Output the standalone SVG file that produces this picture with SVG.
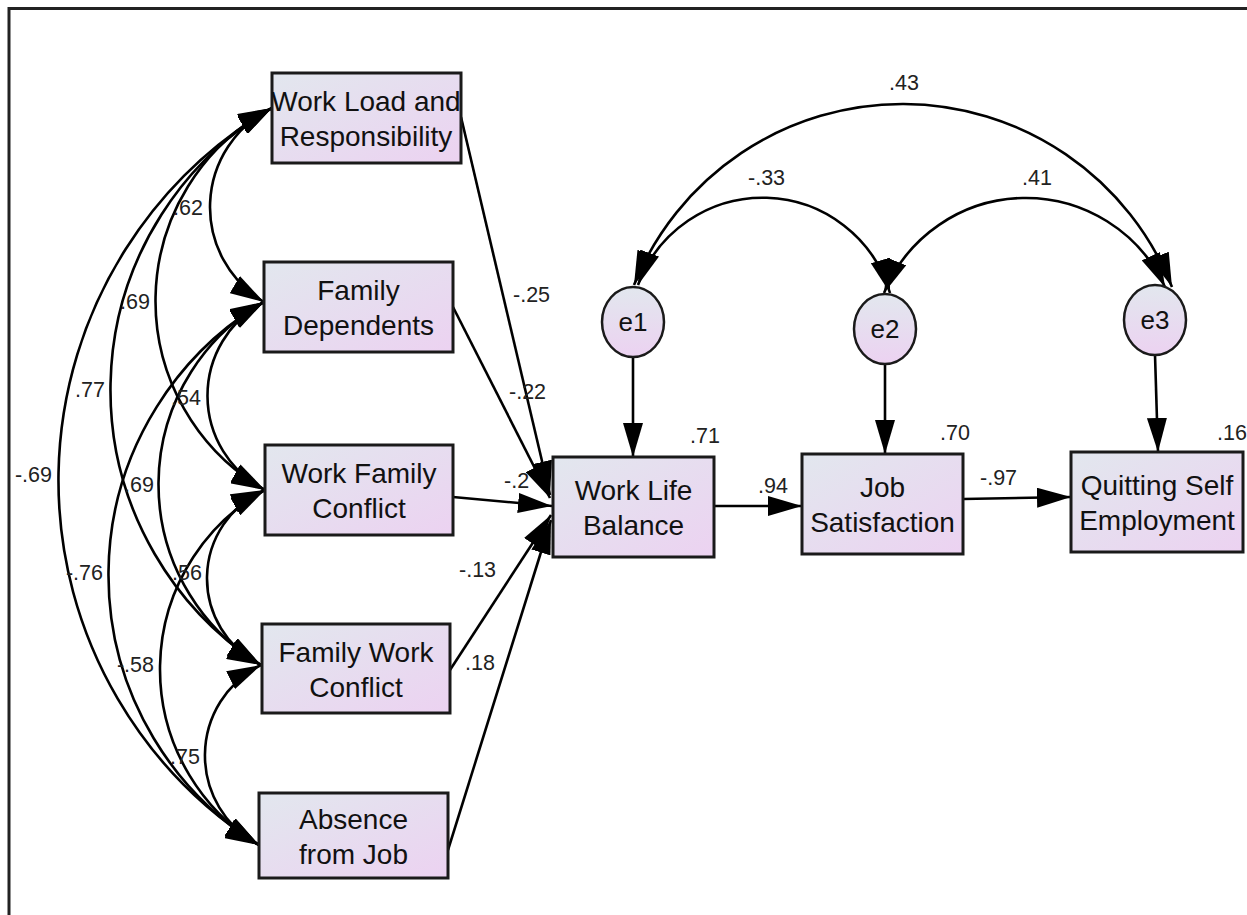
<svg xmlns="http://www.w3.org/2000/svg" width="1247" height="915" viewBox="0 0 1247 915">
<style>
.box{fill:url(#gb);stroke:#1a1a1a;stroke-width:3}
.ell{fill:url(#ge);stroke:#1a1a1a;stroke-width:2.5}
.t{font-family:"Liberation Sans",Arial,sans-serif;font-size:28px;fill:#111;text-anchor:middle}
.et{font-family:"Liberation Sans",Arial,sans-serif;font-size:26px;fill:#111;text-anchor:middle}
.n{font-family:"Liberation Sans",Arial,sans-serif;font-size:21.5px;fill:#222}
.ne{font-family:"Liberation Sans",Arial,sans-serif;font-size:21.5px;fill:#222;text-anchor:end}
.c{fill:none;stroke:#000;stroke-width:2.6;marker-end:url(#ah)}
.cv{fill:none;stroke:#000;stroke-width:2.6;marker-start:url(#ah);marker-end:url(#ah)}
</style>
<defs>
<linearGradient id="gb" x1="0" y1="0" x2="1" y2="1"><stop offset="0" stop-color="#e2e7ee"/><stop offset="1" stop-color="#ecd2f1"/></linearGradient>
<linearGradient id="ge" x1="0" y1="0" x2="0" y2="1"><stop offset="0" stop-color="#e2e7ee"/><stop offset="1" stop-color="#ecd2f1"/></linearGradient>
<marker id="ah" viewBox="0 0 34 20" refX="34" refY="10" markerWidth="34" markerHeight="20" markerUnits="userSpaceOnUse" orient="auto-start-reverse"><path d="M0,0 L34,10 L0,20 z" fill="#000"/></marker>
</defs>
<rect width="1247" height="915" fill="#fff"/>
<path d="M9,915 V8.5 H1247" fill="none" stroke="#222" stroke-width="3"/>

<g id="connectors">
<path class="cv" d="M272,108 A431.6,431.6 0 0 0 259,845"/>
<path class="cv" d="M272,108 A326.7,326.7 0 0 0 261,665"/>
<path class="cv" d="M264,302 A317.4,317.4 0 0 0 259,845"/>
<path class="cv" d="M272,108 A218,218 0 0 0 265,490"/>
<path class="cv" d="M264,302 A210.4,210.4 0 0 0 261,665"/>
<path class="cv" d="M265,490 A205.5,205.5 0 0 0 259,845"/>
<path class="cv" d="M272,108 A110.3,110.3 0 0 0 264,302"/>
<path class="cv" d="M264,302 A106,106 0 0 0 265,490"/>
<path class="cv" d="M265,490 A96.4,96.4 0 0 0 261,665"/>
<path class="cv" d="M261,665 A101.1,101.1 0 0 0 259,845"/>
<path class="cv" d="M634,285 A289.8,289.8 0 0 1 1172,287"/>
<path class="cv" d="M638,285 A132.7,132.7 0 0 1 890,293"/>
<path class="cv" d="M884,293 A153.3,153.3 0 0 1 1165,287"/>
<path class="c" d="M461,117 L550,495"/>
<path class="c" d="M453,307 L550,498"/>
<path class="c" d="M453,497 L552,506"/>
<path class="c" d="M450,670 L551,515"/>
<path class="c" d="M448,850 L551,520"/>
<path class="c" d="M714,506 L802,506"/>
<path class="c" d="M963,499 L1071,497"/>
<path class="c" d="M633,357 L633,457"/>
<path class="c" d="M885,364 L885,454"/>
<path class="c" d="M1155,355 L1158,452"/>
<text class="ne" x="203" y="215">.62</text>
<text class="ne" x="150" y="309">.69</text>
<text class="ne" x="105" y="397">.77</text>
<text class="ne" x="52" y="482">-.69</text>
<text class="ne" x="201" y="405">.54</text>
<text class="ne" x="154" y="492">.69</text>
<text class="ne" x="103" y="580">-.76</text>
<text class="ne" x="202" y="580">.56</text>
<text class="ne" x="154" y="672">-.58</text>
<text class="ne" x="200" y="764">.75</text>
<text class="n" x="513" y="302">-.25</text>
<text class="n" x="509" y="399">-.22</text>
<text class="n" x="504" y="488">-.2</text>
<text class="n" x="459" y="577">-.13</text>
<text class="n" x="465" y="670">.18</text>
<text class="n" x="758" y="493">.94</text>
<text class="n" x="980" y="485">-.97</text>
<text class="n" x="690" y="443">.71</text>
<text class="n" x="940" y="440">.70</text>
<text class="n" x="1217" y="440">.16</text>
<text class="n" x="889" y="90">.43</text>
<text class="n" x="748" y="185">-.33</text>
<text class="n" x="1022" y="185">.41</text>
</g>

<g id="wlr"><rect class="box" x="272" y="73" width="189" height="90"/><text class="t" x="366" y="111">Work Load and</text><text class="t" x="366" y="146">Responsibility</text></g>
<g id="fd"><rect class="box" x="264" y="262" width="189" height="90"/><text class="t" x="358.5" y="300">Family</text><text class="t" x="358.5" y="335">Dependents</text></g>
<g id="wfc"><rect class="box" x="265" y="445" width="188" height="90"/><text class="t" x="359" y="483">Work Family</text><text class="t" x="359" y="518">Conflict</text></g>
<g id="fwc"><rect class="box" x="262" y="624" width="188" height="89"/><text class="t" x="356" y="661.5">Family Work</text><text class="t" x="356" y="696.5">Conflict</text></g>
<g id="aj"><rect class="box" x="259" y="793" width="189" height="85"/><text class="t" x="353.5" y="828.5">Absence</text><text class="t" x="353.5" y="863.5">from Job</text></g>
<g id="wlb"><rect class="box" x="553" y="457" width="161" height="100"/><text class="t" x="633.5" y="499.5">Work Life</text><text class="t" x="633.5" y="535">Balance</text></g>
<g id="js"><rect class="box" x="802" y="454" width="161" height="100"/><text class="t" x="882.5" y="496.5">Job</text><text class="t" x="882.5" y="532">Satisfaction</text></g>
<g id="qse"><rect class="box" x="1071" y="452" width="172" height="100"/><text class="t" x="1157" y="494.5">Quitting Self</text><text class="t" x="1157" y="530">Employment</text></g>
<g id="e1"><ellipse class="ell" cx="633" cy="322" rx="31" ry="35"/><text class="et" x="633" y="331">e1</text></g>
<g id="e2"><ellipse class="ell" cx="885" cy="329" rx="31" ry="35"/><text class="et" x="885" y="338">e2</text></g>
<g id="e3"><ellipse class="ell" cx="1155" cy="320" rx="31" ry="35"/><text class="et" x="1155" y="329">e3</text></g>
</svg>
